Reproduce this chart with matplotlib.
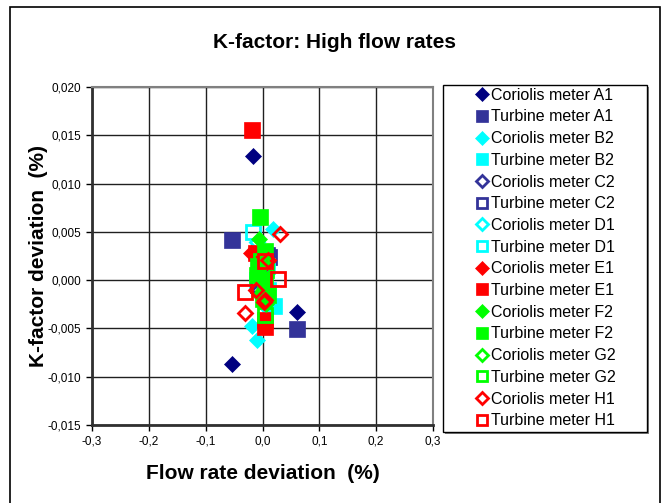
import matplotlib
matplotlib.use('Agg')
import matplotlib.pyplot as plt
from matplotlib.patches import Rectangle
from matplotlib.ticker import FuncFormatter, MultipleLocator

plt.rcParams['font.family'] = ['Liberation Sans', 'DejaVu Sans']

# series: (label, x values, y values)
coriolis_a1_x = [-0.016, -0.053, 0.061, 0.004]
coriolis_a1_y = [0.0129, -0.0087, -0.0033, 0.0008]
turbine_a1_x = [-0.054, 0.061, 0.008]
turbine_a1_y = [0.0042, -0.0051, 0.0026]
coriolis_b2_x = [0.018, -0.018, -0.009, 0.010, -0.004]
coriolis_b2_y = [0.0053, -0.0047, -0.0062, -0.0030, 0.0010]
turbine_b2_x = [0.021, 0.009, -0.010]
turbine_b2_y = [-0.0027, -0.0010, 0.0000]
coriolis_c2_x = [0.001, -0.006]
coriolis_c2_y = [0.0015, -0.0010]
turbine_c2_x = [0.012, -0.008]
turbine_c2_y = [0.0024, -0.0005]
coriolis_d1_x = [-0.010, 0.010]
coriolis_d1_y = [0.0040, -0.0020]
turbine_d1_x = [-0.016, 0.008]
turbine_d1_y = [0.0050, 0.0015]
coriolis_e1_x = [-0.021, -0.005, 0.008]
coriolis_e1_y = [0.0028, 0.0025, 0.0019]
turbine_e1_x = [-0.019, 0.005, 0.005, -0.012]
turbine_e1_y = [0.0155, -0.0041, -0.0049, 0.0028]
coriolis_f2_x = [-0.007, 0.000, 0.006, -0.005]
coriolis_f2_y = [0.0043, -0.0010, -0.0025, 0.0005]
turbine_f2_x = [-0.005, -0.008, 0.005, 0.000, 0.010, -0.010, 0.004]
turbine_f2_y = [0.0065, 0.0015, 0.0000, -0.0020, -0.0015, 0.0005, 0.0030]
coriolis_g2_x = [0.000, -0.005]
coriolis_g2_y = [0.0010, -0.0015]
turbine_g2_x = [0.004, -0.003, 0.006]
turbine_g2_y = [-0.0036, 0.0020, 0.0010]
coriolis_h1_x = [0.030, 0.009, -0.012, 0.005, -0.030, 0.002]
coriolis_h1_y = [0.0048, 0.0021, -0.0010, -0.0021, -0.0034, -0.0023]
turbine_h1_x = [0.028, -0.030, 0.005]
turbine_h1_y = [0.0001, -0.0012, 0.0020]

navy = '#000080'
blue = '#333399'
cyan = '#00FFFF'
red = '#FF0000'
green = '#00FF00'

series = [
    ('Coriolis meter A1', coriolis_a1_x, coriolis_a1_y, 'D', navy, True),
    ('Turbine meter A1', turbine_a1_x, turbine_a1_y, 's', blue, True),
    ('Coriolis meter B2', coriolis_b2_x, coriolis_b2_y, 'D', cyan, True),
    ('Turbine meter B2', turbine_b2_x, turbine_b2_y, 's', cyan, True),
    ('Coriolis meter C2', coriolis_c2_x, coriolis_c2_y, 'D', blue, False),
    ('Turbine meter C2', turbine_c2_x, turbine_c2_y, 's', blue, False),
    ('Coriolis meter D1', coriolis_d1_x, coriolis_d1_y, 'D', cyan, False),
    ('Turbine meter D1', turbine_d1_x, turbine_d1_y, 's', cyan, False),
    ('Coriolis meter E1', coriolis_e1_x, coriolis_e1_y, 'D', red, True),
    ('Turbine meter E1', turbine_e1_x, turbine_e1_y, 's', red, True),
    ('Coriolis meter F2', coriolis_f2_x, coriolis_f2_y, 'D', green, True),
    ('Turbine meter F2', turbine_f2_x, turbine_f2_y, 's', green, True),
    ('Coriolis meter G2', coriolis_g2_x, coriolis_g2_y, 'D', green, False),
    ('Turbine meter G2', turbine_g2_x, turbine_g2_y, 's', green, False),
    ('Coriolis meter H1', coriolis_h1_x, coriolis_h1_y, 'D', red, False),
    ('Turbine meter H1', turbine_h1_x, turbine_h1_y, 's', red, False),
]

fig = plt.figure(figsize=(6.61, 5.03), dpi=100)
ax = fig.add_axes([92 / 661, 1 - 425 / 503, 341 / 661, 338 / 503])

handles = []
for label, xs, ys, mk, col, filled in series:
    if mk == 'D':
        ms = 8.5 if filled else 7.5
    else:
        ms = 11 if filled else 9.5
    h, = ax.plot(xs, ys, linestyle='none', marker=mk, markersize=ms,
                 markerfacecolor=col if filled else 'none',
                 markeredgecolor=col, markeredgewidth=0.5 if filled else 2,
                 label=label, clip_on=False)
    handles.append(h)

ax.set_xlim(-0.3, 0.3)
ax.set_ylim(-0.015, 0.020)
ax.xaxis.set_major_locator(MultipleLocator(0.1))
ax.yaxis.set_major_locator(MultipleLocator(0.005))
ax.xaxis.set_major_formatter(FuncFormatter(lambda v, p: f'{v:.1f}'.replace('.', ',').replace('-0,0', '0,0')))
ax.yaxis.set_major_formatter(FuncFormatter(lambda v, p: f'{v:.3f}'.replace('.', ',').replace('-0,000', '0,000')))
ax.grid(True, color='#202020', linewidth=1)
ax.set_axisbelow(True)
ax.tick_params(labelsize=8.5, length=4, width=1, direction='out', colors='black')
for s in ['top', 'right']:
    ax.spines[s].set_color('#808080')
    ax.spines[s].set_linewidth(1.5)
for s in ['left', 'bottom']:
    ax.spines[s].set_color('#303030')
    ax.spines[s].set_linewidth(2)

ax.set_xlabel('Flow rate deviation  (%)', fontsize=15, fontweight='bold', labelpad=12)
ax.set_ylabel('K-factor deviation  (%)', fontsize=15, fontweight='bold', labelpad=0)
fig.text(335 / 661, 1 - 42 / 503, 'K-factor: High flow rates', fontsize=15,
         fontweight='bold', ha='center', va='center')

# legend box with shadow
fig.patches.append(Rectangle((445 / 661, 1 - 434 / 503), 204 / 661, 347 / 503,
                             transform=fig.transFigure, facecolor='#808080',
                             edgecolor='none', zorder=0))
fig.patches.append(Rectangle((443 / 661, 1 - 432 / 503), 204 / 661, 347 / 503,
                             transform=fig.transFigure, facecolor='white',
                             edgecolor='black', linewidth=1, zorder=1))
leg = fig.legend(handles=handles, loc='center', bbox_to_anchor=(546 / 661, 1 - 258 / 503),
                 frameon=False, fontsize=11.5, handlelength=0.7, handletextpad=0.25,
                 labelspacing=0.42, borderpad=0.2, markerscale=0.8)
leg.set_zorder(5)

# outer chart border
fig.patches.append(Rectangle((10 / 661, -0.05), 650 / 661, 1.05 - 7 / 503,
                             transform=fig.transFigure, facecolor='none',
                             edgecolor='black', linewidth=1.2, clip_on=False))

fig.savefig('out.png', dpi=100)
